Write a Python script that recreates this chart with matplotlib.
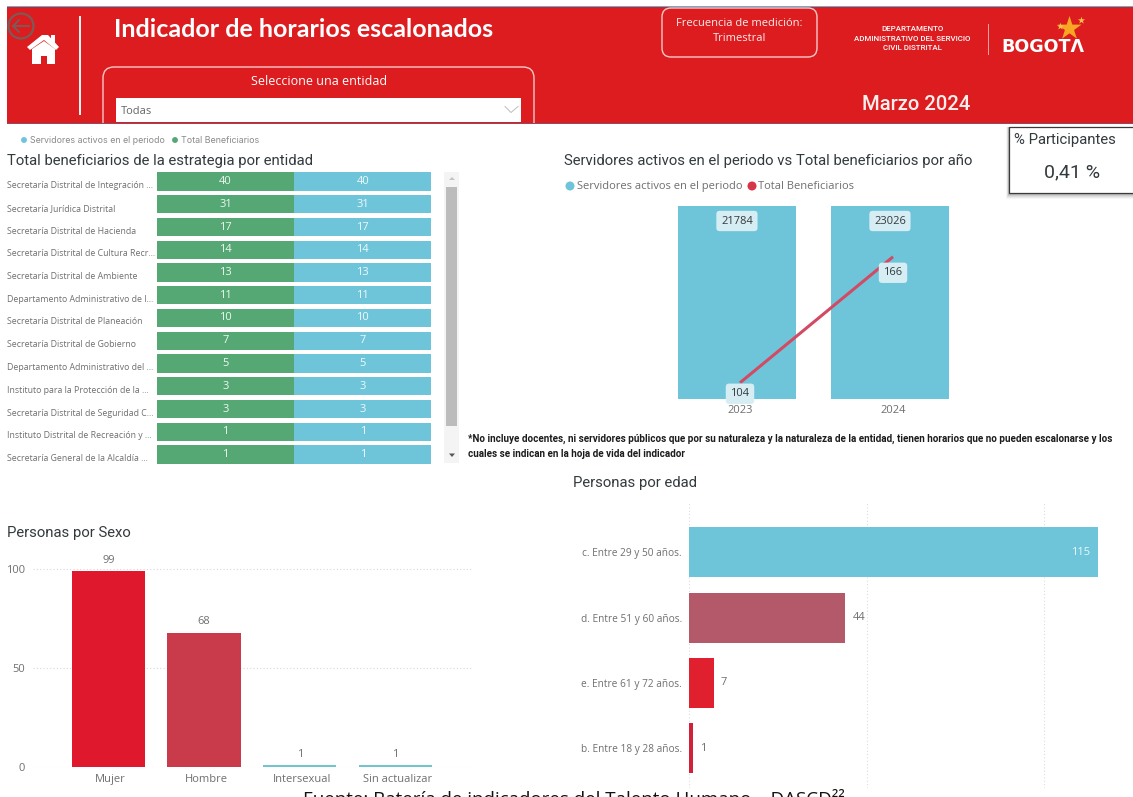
import matplotlib
matplotlib.use("Agg")
import matplotlib.pyplot as plt
from matplotlib.patches import Rectangle, FancyBboxPatch, Circle, Polygon
import numpy as np

W, H = 1133, 797

# ---------- data ----------
entidades = ["Secretaría Distrital de Integración ...", "Secretaría Jurídica Distrital",
             "Secretaría Distrital de Hacienda", "Secretaría Distrital de Cultura Recr...",
             "Secretaría Distrital de Ambiente", "Departamento Administrativo de l...",
             "Secretaría Distrital de Planeación", "Secretaría Distrital de Gobierno",
             "Departamento Administrativo del ...", "Instituto para la Protección de la ...",
             "Secretaría Distrital de Seguridad C...", "Instituto Distrital de Recreación y ...",
             "Secretaría General de la Alcaldía ..."]
total_benef = [40, 31, 17, 14, 13, 11, 10, 7, 5, 3, 3, 1, 1]
serv_activos = [40, 31, 17, 14, 13, 11, 10, 7, 5, 3, 3, 1, 1]

anios = ["2023", "2024"]
serv_anio = [21784, 23026]
benef_anio = [104, 166]

sexo = ["Mujer", "Hombre", "Intersexual", "Sin actualizar"]
sexo_val = [99, 68, 1, 1]

edad = ["c. Entre 29 y 50 años.", "d. Entre 51 y 60 años.", "e. Entre 61 y 72 años.", "b. Entre 18 y 28 años."]
edad_val = [115, 44, 7, 1]

# ---------- style ----------
RED = "#dc1c1f"
TEAL = "#6ec5d9"
GREEN = "#55a873"
GRAY = "#6f6f6f"
DARK = "#333a3d"
BODY = "Open Sans"
HEAD = "Roboto"

fig = plt.figure(figsize=(W / 100, H / 100), dpi=100, facecolor="white")


def px_axes(x0, y0, x1, y1, **kw):
    a = fig.add_axes([x0 / W, 1 - y1 / H, (x1 - x0) / W, (y1 - y0) / H], **kw)
    a.patch.set_alpha(0)
    return a


def clean(a):
    for s in a.spines.values():
        s.set_visible(False)


deco = fig.add_axes([0, 0, 1, 1], zorder=0)
deco.set_xlim(0, W)
deco.set_ylim(H, 0)
deco.axis("off")


def T(x, y, s, size=9, color=DARK, ha="left", va="center", family=HEAD, weight="normal", **kw):
    return deco.text(x, y, s, fontsize=size, color=color, ha=ha, va=va, family=family, weight=weight, **kw)


# ---------- header ----------
deco.add_patch(Rectangle((7, 6), W - 7, 1.3, color="#58b4d8", lw=0))
deco.add_patch(Rectangle((7, 7), W - 7, 117, color=RED, lw=0))
deco.add_patch(Rectangle((7, 123), W - 7, 1.4, color="#8f4a63", lw=0))
deco.add_patch(Rectangle((79, 16), 2.4, 99, color="#fbeeee", lw=0))
deco.add_patch(Circle((21, 26), 12.5, fill=False, ec="#7d5a58", lw=1.6))
deco.plot([13, 29], [26, 26], color="#7d5a58", lw=1.4)
deco.plot([19, 13, 19], [20, 26, 32], color="#7d5a58", lw=1.4)
deco.add_patch(Polygon([[27, 47], [42, 35], [48, 35], [59, 47], [56, 50], [44, 40], [30, 50]], color="white", lw=0))
deco.add_patch(Polygon([[32, 49], [44, 41], [55, 49], [55, 64], [47, 64], [47, 56], [41, 56], [41, 64], [32, 64]], color="white", lw=0))
deco.add_patch(Rectangle((51, 35), 4, 9, color="white", lw=0))

T(113.5, 29, "Indicador de horarios escalonados", size=18, color="white", weight="bold", family="Lato")

slicer = FancyBboxPatch((103, 67), 431, 70, boxstyle="round,pad=0,rounding_size=11", fc="none", ec="#f4c9c9", lw=1)
deco.add_patch(slicer)
slicer.set_clip_path(Rectangle((0, 0), W, 123, transform=deco.transData))
T(319.5, 81, "Seleccione una entidad", size=9, color="white", ha="center", family=BODY)
deco.add_patch(Rectangle((116, 97.5), 405, 24.5, color="white", lw=0))
T(121, 111, "Todas", size=8, color="#666666", family=BODY)
deco.plot([505, 511, 518], [106.5, 112.5, 106.5], color="#bcbcbc", lw=0.7)

deco.add_patch(FancyBboxPatch((662, 8), 155, 49, boxstyle="round,pad=0,rounding_size=9",
                              fc="none", ec="#f4c9c9", lw=1))
T(739.5, 23.5, "Frecuencia de medición:", size=8, color="#fdeeee", ha="center", family=BODY)
T(739.5, 38.5, "Trimestral", size=8, color="#fdeeee", ha="center", family=BODY)
T(912, 29, "DEPARTAMENTO", size=5.7, color="white", ha="center", family="Roboto", weight="medium")
T(912, 38.5, "ADMINISTRATIVO DEL SERVICIO", size=5.7, color="white", ha="center", family="Roboto", weight="medium")
T(912, 48, "CIVIL DISTRITAL", size=5.7, color="white", ha="center", family="Roboto", weight="medium")
deco.add_patch(Rectangle((987.5, 24), 1, 31, color="#f0a0a0", lw=0))
T(1001, 46.5, "BOGOTΛ", size=12.6, color="white", weight="bold", family="DejaVu Sans")
deco.scatter([1069], [28], marker="*", s=330, color="#f8a623", zorder=3, lw=0)
deco.scatter([1081, 1060], [20, 26], marker="*", s=30, color="#f6c04a", zorder=3, lw=0)
T(916.5, 104, "Marzo 2024", size=14.6, color="#fdeeee", ha="center", weight="medium", family=HEAD)

# ---------- KPI ----------
for i, a in zip(range(6, 0, -1), [.05, .07, .09, .12, .16, .2]):
    deco.add_patch(Rectangle((1009 - i / 2, 127), W, 66 + i, color="#555555", alpha=a, lw=0))
deco.add_patch(Rectangle((1009, 127), W, 66, fc="white", ec="#3a3a3a", lw=0.9, zorder=2))
T(1014, 139.5, "% Participantes", size=10.7, color=DARK, zorder=3)
T(1072.5, 172, "0,41 %", size=14, color=DARK, ha="center", zorder=3)

# ---------- titles / legends ----------
deco.scatter([24, 175], [140, 140], s=18, color=[TEAL, GREEN], lw=0)
T(30, 140.5, "Servidores activos en el periodo", size=6.35, color="#8a8a8a", family="Inter")
T(181, 140.5, "Total Beneficiarios", size=6.4, color="#8a8a8a", family="Inter")
T(7, 161, "Total beneficiarios de la estrategia por entidad", size=10.75, color=DARK)
T(564, 161, "Servidores activos en el periodo vs Total beneficiarios por año", size=10.75, color=DARK)
deco.scatter([570, 752], [186, 186], s=42, color=[TEAL, "#d8344a"], lw=0)
T(577, 186, "Servidores activos en el periodo", size=8.0, color=GRAY, family=BODY)
T(758, 186, "Total Beneficiarios", size=8.0, color=GRAY, family=BODY)
T(468, 438.5, "*No incluye docentes, ni servidores públicos que por su naturaleza y la naturaleza de la entidad, tienen horarios que no pueden escalonarse y los",
  size=7.1, color="#1c1c1c", weight="bold", family="Roboto")
T(468, 453.5, "cuales se indican en la hoja de vida del indicador", size=7.1, color="#1c1c1c", weight="bold", family="Roboto")
T(573, 483, "Personas por edad", size=10.75, color=DARK)
T(7, 533, "Personas por Sexo", size=10.75, color=DARK)
deco.text(303, 805, "Fuente: Batería de indicadores del Talento Humano – DASCD²²", fontsize=13.5,
          color="#111111", family="Open Sans", ha="left", va="baseline")

# ---------- stacked 100% bars by entity ----------
row_pitch = 22.75
n = len(entidades)
top_px = 181.5 - row_pitch / 2
ax1 = px_axes(157, top_px, 431.5, top_px + n * row_pitch, zorder=2)
y = np.arange(n)
share_g = np.array(total_benef) / (np.array(total_benef) + np.array(serv_activos))
share_b = 1 - share_g
ax1.barh(y, share_g, height=0.81, color=GREEN, lw=0)
ax1.barh(y, share_b, left=share_g, height=0.81, color=TEAL, lw=0)
ax1.set_xlim(0, 1)
ax1.set_ylim(n - 0.5, -0.5)
ax1.set_yticks([])
ax1.set_xticks([])
clean(ax1)
for i in range(n):
    ax1.annotate(entidades[i], (0, i), xytext=(-150, -4), textcoords="offset pixels", ha="left", va="center",
                 fontsize=6.3, color=GRAY, family=BODY, annotation_clip=False)
    ax1.text(share_g[i] / 2, i, str(total_benef[i]), color="#eef7f1", ha="center", va="center", fontsize=8, family=BODY)
    ax1.text(share_g[i] + share_b[i] / 2, i, str(serv_activos[i]), color="#eef8fa", ha="center", va="center", fontsize=8, family=BODY)

# scrollbar
deco.add_patch(Rectangle((444, 172), 15, 291, color="#f4f4f4", lw=0))
deco.add_patch(Rectangle((446, 187), 11, 239, color="#bcbcbc", lw=0))
deco.add_patch(Polygon([[449, 180], [452, 177], [455, 180]], color="#c4c4c4", lw=0))
deco.add_patch(Polygon([[449, 453.5], [452, 457], [455, 453.5]], color="#555555", lw=0))

# ---------- combo chart ----------
ax2 = px_axes(663.5, 206, 969.5, 399, zorder=2)
xc = np.arange(len(anios))
ax2.bar(xc - 0.02, serv_anio, width=0.771, color=TEAL, lw=0)
ax2.set_xlim(-0.5, 1.5)
ax2.set_ylim(0, 21784)
ax2.set_xticks(xc, anios, fontsize=8, color=GRAY, family=BODY)
ax2.tick_params(axis="x", length=0, pad=4)
ax2.set_yticks([])
clean(ax2)
ax2b = ax2.twinx()
ax2b.patch.set_alpha(0)
ax2b.plot(xc, benef_anio, color="#d24a63", lw=2.2, solid_capstyle="butt")
ax2b.set_ylim(96, 191)
ax2b.set_yticks([])
clean(ax2b)
box = dict(boxstyle="round,pad=0.42,rounding_size=0.3", fc="#d6edf3", ec="none")
for i, v in enumerate(serv_anio):
    ax2b.annotate(str(v), (xc[i] - 0.02, 1), xycoords=("data", "axes fraction"), xytext=(0, -15),
                  textcoords="offset pixels", ha="center", va="center", fontsize=8, color=DARK, family=BODY, bbox=box)
ax2b.annotate(str(benef_anio[0]), (xc[0], benef_anio[0]), xytext=(0, -11), textcoords="offset pixels",
              ha="center", va="center", fontsize=8, color=DARK, family=BODY, bbox=box)
ax2b.annotate(str(benef_anio[1]), (xc[1], benef_anio[1]), xytext=(0, -16), textcoords="offset pixels",
              ha="center", va="center", fontsize=8, color=DARK, family=BODY, bbox=box)

# ---------- sex chart ----------
ax3 = px_axes(33, 555, 473, 767.3, zorder=2)
xs = np.arange(len(sexo))
ax3.bar(xs, sexo_val, width=0.766, color=["#e0182d", "#c93a4a", "#70c5cf", "#70c5cf"], lw=0, zorder=2)
ax3.set_xlim(-0.787, 3.81)
ax3.set_ylim(0, 107.2)
ax3.set_yticks([0, 50, 100], ["0", "50", "100"], fontsize=8, color=GRAY, family=BODY)
ax3.set_xticks(xs + 0.02, sexo, fontsize=8, color=GRAY, family=BODY)
ax3.tick_params(axis="both", length=0)
ax3.tick_params(axis="x", pad=4.5)
ax3.tick_params(axis="y", pad=6)
ax3.grid(axis="y", color="#d9d9d9", ls=(0, (1, 2)), lw=0.8, zorder=0)
ax3.set_axisbelow(True)
clean(ax3)
for i, v in enumerate(sexo_val):
    ax3.annotate(str(v), (xs[i], v), xytext=(0, 11), textcoords="offset pixels", ha="center", va="center",
                 fontsize=8, color=GRAY, family=BODY)

# ---------- age chart ----------
ax4 = px_axes(689, 503, 1110, 788, zorder=2)
ya = np.arange(len(edad))
ax4.barh(ya, edad_val, height=0.766, color=[TEAL, "#b3596a", "#e0202f", "#d0203a"], lw=0, zorder=2)
ax4.set_xlim(0, 118.5)
ax4.set_ylim(3.61, -0.755)
ax4.set_yticks(ya, edad, fontsize=7.3, color=GRAY, family=BODY)
ax4.set_xticks([0, 50, 100], [])
ax4.tick_params(axis="both", length=0)
ax4.tick_params(axis="y", pad=5)
ax4.grid(axis="x", color="#dddddd", ls=(0, (1, 2)), lw=0.8, zorder=0)
ax4.set_axisbelow(True)
clean(ax4)
for i, v in enumerate(edad_val):
    if i == 0:
        ax4.annotate(str(v), (v, i), xytext=(-7, 0), textcoords="offset pixels", ha="right", va="center",
                     fontsize=8, color="#eaf6f9", family=BODY)
    else:
        ax4.annotate(str(v), (v, i), xytext=(7, 0), textcoords="offset pixels", ha="left", va="center",
                     fontsize=8, color=GRAY, family=BODY)

fig.savefig("out.png", dpi=100)
